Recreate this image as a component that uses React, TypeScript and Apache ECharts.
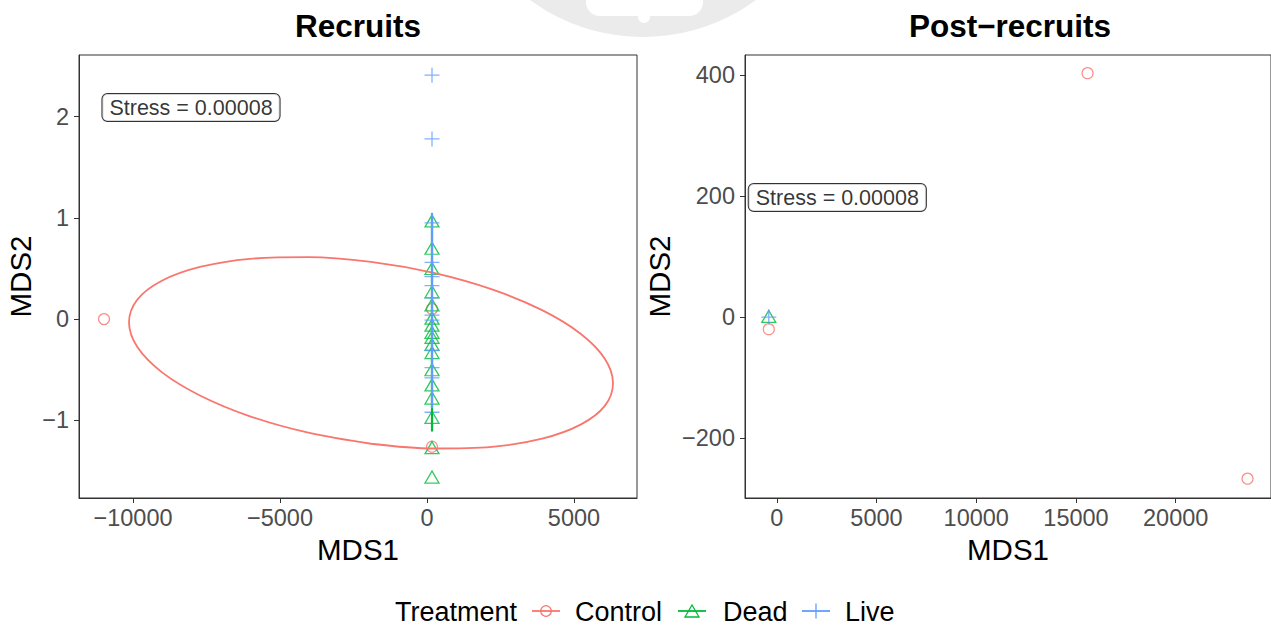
import React, { useEffect, useRef } from "react";
import * as echarts from "echarts";

// Treatment colours (ggplot hue palette)
const COLORS: Record<string, string> = {
  Control: "#F8766D",
  Dead: "#00BA38",
  Live: "#619CFF",
};

const FONT = '"Liberation Sans", Arial, Helvetica, sans-serif';

// ---------- Recruits panel ----------
// MDS1 of the samples stacked in the central column
const recruitsColumnX = 170;
const recruitsControl: [number, number][] = [
  [-10986, 0.0],
  [170, 0.1],
  [170, -1.26],
];
const recruitsDeadY = [
  0.97, 0.7, 0.5, 0.27, 0.14, 0.01, -0.06, -0.13, -0.18, -0.25, -0.33, -0.5,
  -0.65, -0.78, -0.97, -1.27, -1.56,
];
const recruitsLiveY = [
  2.41, 1.78, 0.95, 0.56, 0.42, 0.33, 0.21, 0.04, -0.01, -0.31, -0.48, -0.58,
  -0.92,
];
// 95% ellipse outline of the Control group (closed loop, starts on the lower flank)
const recruitsControlEllipse: [number, number][] = [
  [-1905, -1.231], [-4037, -1.122], [-6020, -0.96], [-7724, -0.754],
  [-9034, -0.521], [-9857, -0.274], [-10136, -0.032], [-9857, 0.192],
  [-9034, 0.377], [-7724, 0.515], [-6020, 0.596], [-4037, 0.613],
  [-1905, 0.566], [228, 0.457], [2211, 0.294], [3915, 0.089],
  [5224, -0.144], [6048, -0.391], [6327, -0.634], [6048, -0.857],
  [5224, -1.042], [3915, -1.181], [2211, -1.262], [228, -1.278],
  [-1905, -1.231],
];
// Dead / Live ellipses collapse to vertical segments (no spread in MDS1)
const recruitsDeadEllipse: [number, number][] = [
  [170, 1.02],
  [170, -1.11],
];
const recruitsLiveEllipse: [number, number][] = [
  [170, 1.05],
  [170, -0.88],
];
const recruitsXTicks = [-10000, -5000, 0, 5000];
const recruitsYTicks = [-1, 0, 1, 2];
const recruitsXRange = [-11837, 7143];
const recruitsYRange = [-1.767, 2.609];

// ---------- Post-recruits panel ----------
const postControl: [number, number][] = [
  [15580, 403],
  [23600, -267],
  [-400, -20],
];
const postDead: [number, number][] = [[-400, 1]];
const postLive: [number, number][] = [[-400, 0]];
const postXTicks = [0, 5000, 10000, 15000, 20000];
const postYTicks = [-200, 0, 200, 400];
const postXRange = [-1592, 24776];
const postYRange = [-299, 433];

const stressText = "Stress = 0.00008";
const recruitsStressAt: [number, number] = [-8027, 2.09];
const postStressAt: [number, number] = [3035, 197.5];

const minusFmt = (v: number) => (v < 0 ? "\u2212" + Math.abs(v) : String(v));

const PLUS_PATH = "path://M0,8L16,8M8,0L8,16";

function pointStyle(t: string) {
  const base = {
    color: "transparent",
    borderColor: COLORS[t],
    borderWidth: 1.2,
  };
  if (t === "Control") return { symbol: "circle", symbolSize: 11, itemStyle: base };
  if (t === "Dead") return { symbol: "triangle", symbolSize: [14, 12], itemStyle: { ...base, borderWidth: 1.3 } };
  return { symbol: PLUS_PATH, symbolSize: 15, itemStyle: { ...base, borderWidth: 1.3 } };
}

function xAxisFor(gridIndex: number, range: number[], ticks: number[]) {
  return {
    type: "value",
    gridIndex,
    min: range[0],
    max: range[1],
    splitLine: { show: false },
    axisLine: { show: true, onZero: false, lineStyle: { color: "#333333", width: 1 } },
    axisTick: { show: true, customValues: ticks, length: 5, lineStyle: { color: "#333333", width: 1 } },
    axisLabel: {
      customValues: ticks,
      formatter: minusFmt,
      color: "#4D4D4D",
      fontSize: 23.5,
      fontFamily: FONT,
      margin: 8,
    },
    name: "MDS1",
    nameLocation: "middle",
    nameGap: 36,
    nameTextStyle: { color: "#000", fontSize: 29.5, fontFamily: FONT },
  };
}

function yAxisFor(gridIndex: number, range: number[], ticks: number[], nameGap: number) {
  return {
    type: "value",
    gridIndex,
    min: range[0],
    max: range[1],
    splitLine: { show: false },
    axisLine: { show: true, onZero: false, lineStyle: { color: "#333333", width: 1 } },
    axisTick: { show: true, customValues: ticks, length: 5, lineStyle: { color: "#333333", width: 1 } },
    axisLabel: {
      customValues: ticks,
      formatter: minusFmt,
      color: "#4D4D4D",
      fontSize: 23.5,
      fontFamily: FONT,
      margin: 10,
    },
    name: "MDS2",
    nameLocation: "middle",
    nameRotate: 90,
    nameGap,
    nameTextStyle: { color: "#000", fontSize: 29.5, fontFamily: FONT },
  };
}

function scatter(idx: number, t: string, data: [number, number][]) {
  return {
    type: "scatter",
    xAxisIndex: idx,
    yAxisIndex: idx,
    data,
    ...pointStyle(t),
    silent: true,
    z: 2,
  };
}

function ellipse(idx: number, t: string, data: [number, number][], smooth: number | boolean, width: number) {
  return {
    type: "line",
    xAxisIndex: idx,
    yAxisIndex: idx,
    data,
    smooth,
    symbol: "none",
    showSymbol: false,
    lineStyle: { color: COLORS[t], width },
    silent: true,
    z: 3,
  };
}

function stressLabel(idx: number, at: [number, number]) {
  return {
    type: "scatter",
    xAxisIndex: idx,
    yAxisIndex: idx,
    data: [at],
    symbolSize: 1,
    itemStyle: { color: "transparent" },
    silent: true,
    z: 4,
    label: {
      show: true,
      position: "inside",
      formatter: stressText,
      color: "#000",
      fontSize: 21.5,
      fontFamily: FONT,
      backgroundColor: "#fff",
      borderColor: "#000",
      borderWidth: 1,
      borderRadius: 5,
      padding: [3, 7, 2, 7],
    },
  };
}

// Legend key geometry
const legendY = 611;
function legendGraphics() {
  const els: any[] = [];
  const txt = (x: number, s: string) => ({
    type: "text",
    x,
    y: legendY + 1,
    style: {
      text: s,
      fill: "#000",
      fontSize: 27,
      fontFamily: FONT,
      align: "left",
      verticalAlign: "middle",
      textAlign: "left",
      textVerticalAlign: "middle",
    },
  });
  els.push(txt(395, "Treatment"));
  const keys = [
    { t: "Control", x0: 532, label: 575 },
    { t: "Dead", x0: 678, label: 723 },
    { t: "Live", x0: 802, label: 845 },
  ];
  keys.forEach(({ t, x0, label }) => {
    const c = COLORS[t];
    const cx = x0 + 14;
    els.push({
      type: "line",
      shape: { x1: x0, y1: legendY, x2: x0 + 28, y2: legendY },
      style: { stroke: c, lineWidth: 1.8 },
    });
    if (t === "Control") {
      els.push({
        type: "circle",
        shape: { cx, cy: legendY, r: 5.3 },
        style: { stroke: c, fill: "none", lineWidth: 1.2 },
      });
    } else if (t === "Dead") {
      els.push({
        type: "polygon",
        shape: { points: [[cx - 7, legendY + 6], [cx + 7, legendY + 6], [cx, legendY - 6]] },
        style: { stroke: c, fill: "none", lineWidth: 1.3 },
      });
    } else {
      els.push({
        type: "line",
        shape: { x1: cx, y1: legendY - 7.5, x2: cx, y2: legendY + 7.5 },
        style: { stroke: c, lineWidth: 1.3 },
      });
    }
    els.push(txt(label, t));
  });
  return els;
}

function titleText(x: number, s: string) {
  return {
    type: "text",
    x,
    y: 26,
    style: {
      text: s,
      fill: "#000",
      fontSize: 31.5,
      fontWeight: "bold",
      fontFamily: FONT,
      align: "center",
      verticalAlign: "middle",
      textAlign: "center",
      textVerticalAlign: "middle",
    },
  };
}

const option: any = {
  animation: false,
  backgroundColor: "#fff",
  textStyle: { fontFamily: FONT },
  grid: [
    { left: 79, top: 55, width: 558, height: 443, show: true, borderColor: "#333333", borderWidth: 1, backgroundColor: "transparent" },
    { left: 745, top: 55, width: 530, height: 443, show: true, borderColor: "#333333", borderWidth: 1, backgroundColor: "transparent" },
  ],
  xAxis: [xAxisFor(0, recruitsXRange, recruitsXTicks), xAxisFor(1, postXRange, postXTicks)],
  yAxis: [yAxisFor(0, recruitsYRange, recruitsYTicks, 44), yAxisFor(1, postYRange, postYTicks, 71)],
  graphic: [
    // faint badge at the top edge
    {
      type: "circle",
      shape: { cx: 643, cy: -154, r: 191 },
      style: { fill: "#EBEBEB" },
      z: -10,
    },
    {
      type: "rect",
      shape: { x: 586, y: -30, width: 117, height: 46, r: 14 },
      style: { fill: "#fff" },
      z: -9,
    },
    {
      type: "circle",
      shape: { cx: 644, cy: 17, r: 6 },
      style: { fill: "#fff" },
      z: -9,
    },
    titleText(358, "Recruits"),
    titleText(1010, "Post\u2212recruits"),
    ...legendGraphics(),
  ],
  series: [
    scatter(0, "Control", recruitsControl),
    scatter(0, "Dead", recruitsDeadY.map((y) => [recruitsColumnX, y] as [number, number])),
    scatter(0, "Live", recruitsLiveY.map((y) => [recruitsColumnX, y] as [number, number])),
    ellipse(0, "Control", recruitsControlEllipse, 0.35, 1.8),
    ellipse(0, "Dead", recruitsDeadEllipse, false, 2.2),
    ellipse(0, "Live", recruitsLiveEllipse, false, 2.2),
    stressLabel(0, recruitsStressAt),
    scatter(1, "Control", postControl),
    scatter(1, "Dead", postDead),
    scatter(1, "Live", postLive),
    stressLabel(1, postStressAt),
  ],
};

export default function App() {
  const ref = useRef<HTMLDivElement>(null);
  useEffect(() => {
    const chart = echarts.init(ref.current!, null, { renderer: "svg" });
    chart.setOption(option);
    return () => chart.dispose();
  }, []);
  return (
    <div
      ref={ref}
      style={{ position: "fixed", left: 0, top: 0, width: 1271, height: 628, background: "#fff" }}
    />
  );
}
